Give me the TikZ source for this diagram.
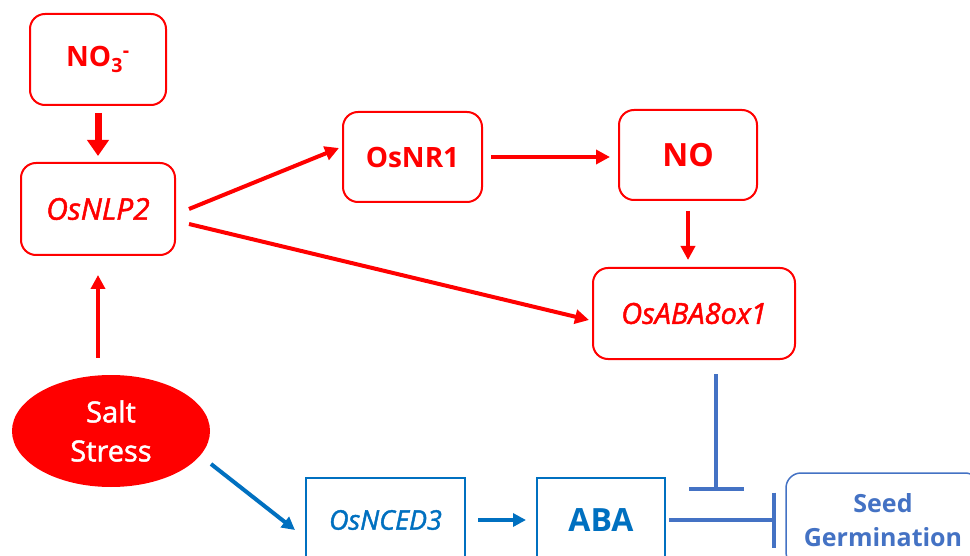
\documentclass[tikz,border=0pt]{standalone}
\usepackage{fontspec}
\setmainfont{Open Sans}
\newfontfamily\medfont{Open Sans}[FakeBold=1.6]
\usetikzlibrary{arrows.meta,shapes.geometric,calc}
\definecolor{myred}{HTML}{FF0000}
\definecolor{myblue}{HTML}{0070C0}
\definecolor{myblueb}{HTML}{4472C4}
\begin{document}
\begin{tikzpicture}[x=1pt,y=-1pt,
  redbox/.style={draw=myred,line width=2pt,rounded corners=15pt,text=myred,inner sep=0pt},
  bluebox/.style={draw=myblue,line width=2pt,text=myblue,inner sep=0pt},
  redarrow/.style={draw=myred,line width=4pt,-{Triangle[length=14pt,width=14pt]}},
  bluearrow/.style={draw=myblue,line width=4pt,-{Triangle[length=13pt,width=13pt]}},
  inhib/.style={draw=myblueb,line width=4pt,-{Bar[width=55pt]}},
  fsA/.style={font=\fontsize{28}{34}\selectfont\bfseries},
  fsB/.style={font=\fontsize{32}{38}\selectfont\bfseries},
  fsI/.style={font=\fontsize{29}{34}\selectfont\medfont\itshape},
]
\clip (0,0) rectangle (970,556);
\fill[white] (0,0) rectangle (970,556);

\node[redbox,fsA,minimum width=136pt,minimum height=91pt] (no3) at (98,59.5) {NO\textsubscript{3}\textsuperscript{-}};
\node[redbox,fsI,font=\fontsize{30}{34}\selectfont\medfont\itshape,minimum width=154pt,minimum height=92pt] (nlp2) at (98,209) {OsNLP2};
\node[redbox,fsA,minimum width=139pt,minimum height=90pt] (nr1) at (412.5,157) {OsNR1};
\node[redbox,fsB,minimum width=138pt,minimum height=90pt] (no) at (688,155) {NO};
\node[redbox,fsI,minimum width=202pt,minimum height=91pt] (aba8) at (694,313.5) {OsABA8ox1};
\node[ellipse,fill=myred,draw=none,text=white,inner sep=0pt,minimum width=198pt,minimum height=112pt,
  font=\fontsize{29}{39}\selectfont\medfont,align=center] (salt) at (111,431) {Salt\\Stress};
\node[bluebox,font=\fontsize{27}{30}\selectfont\medfont\itshape,minimum width=159pt,minimum height=84pt] (nced3) at (385.5,520) {OsNCED3};
\node[bluebox,fsB,minimum width=128pt,minimum height=84pt] (aba) at (601,520) {ABA};
\node[draw=myblueb,line width=1.5pt,rounded corners=15pt,text=myblueb,inner sep=0pt,
  minimum width=194pt,minimum height=94pt,align=center,
  font=\fontsize{25}{34}\selectfont\bfseries] (seed) at (883,520) {Seed\\Germination};

\coordinate (inh) at (716,491);

% red arrows
\draw[redarrow,line width=7pt,-{Triangle[length=16pt,width=21pt]},shorten <=7pt,shorten >=6pt] (no3.south) -- (nlp2.north);
\draw[redarrow,line width=3.5pt,shorten <=17pt,shorten >=19pt] (nlp2.south |- salt.north) -- (nlp2.south);
\draw[redarrow] ($(nlp2.east)+(13,0)$) -- ($(nr1.west)+(-3,-9)$);
\draw[redarrow] ($(nlp2.east)+(13,15)$) -- ($(aba8.west)+(-3,6.5)$);
\draw[redarrow,shorten <=8pt,shorten >=8pt] (nr1.east) -- (nr1.east -| no.west);
\draw[redarrow,shorten <=10pt,shorten >=7pt] (no.south) -- (no.south |- aba8.north);

% blue arrows
\draw[bluearrow] ($(salt.center)+(100,33)$) -- ($(nced3.west)+(-10,10)$);
\draw[bluearrow,shorten <=12pt,shorten >=10pt] (nced3.east) -- (aba.west);

% inhibition
\draw[inhib,shorten <=3pt,shorten >=9pt] (aba.east) -- (aba.east -| seed.west);
\draw[inhib,shorten <=14pt] (aba8.south -| inh) -- (inh);
\end{tikzpicture}
\end{document}
